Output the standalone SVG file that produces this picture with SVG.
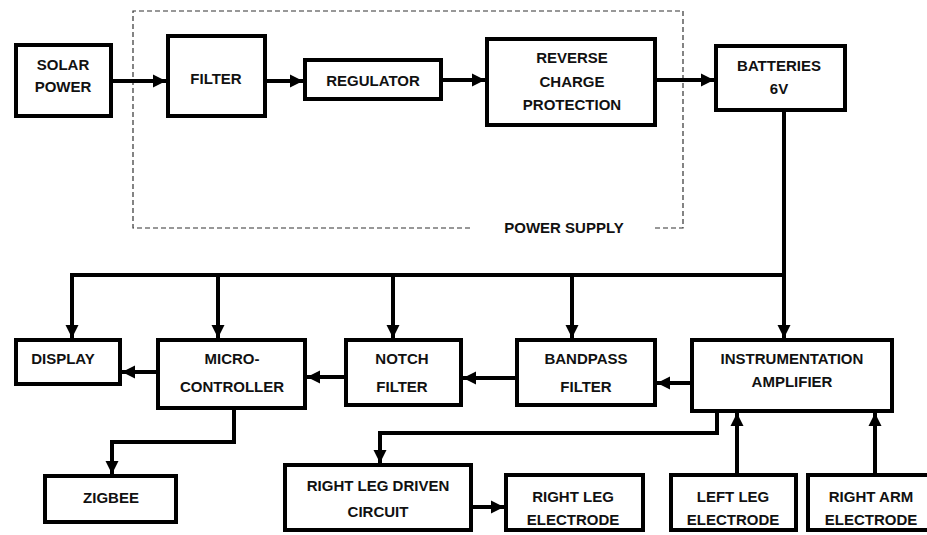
<svg xmlns="http://www.w3.org/2000/svg" width="927" height="535" viewBox="0 0 927 535">
<style>
.box{fill:#fff;stroke:#000;stroke-width:4}
.t{font-family:"Liberation Sans",Arial,sans-serif;font-weight:bold;font-size:15px;text-anchor:middle;fill:#111}
.c{fill:none;stroke:#000;stroke-width:4}
.a{marker-end:url(#ah)}
</style>
<defs>
<marker id="ah" markerUnits="userSpaceOnUse" markerWidth="14" markerHeight="14" viewBox="0 0 14 14" refX="13" refY="7" orient="auto">
<path d="M0 0.5 L13 7 L0 13.5 Z" fill="#000"/>
</marker>
</defs>
<rect width="927" height="535" fill="#fff"/>
<g id="power-supply-frame">
<path d="M470 228 H133 V11 H683 V228 H655" fill="none" stroke="#333" stroke-width="1.2" stroke-dasharray="5,3"/>
<text class="t" x="564" y="233">POWER SUPPLY</text>
</g>
<g id="connectors">
<path class="c a" d="M113 81 H166"/>
<path class="c a" d="M267 81 H303"/>
<path class="c a" d="M443 80 H485"/>
<path class="c a" d="M657 80 H714"/>
<path class="c a" d="M784 112 V338"/>
<path class="c" d="M786 275 H70"/>
<path class="c a" d="M72 273 V338"/>
<path class="c a" d="M218 275 V338"/>
<path class="c a" d="M393 275 V338"/>
<path class="c a" d="M572 275 V338"/>
<path class="c a" d="M690 383 H657"/>
<path class="c a" d="M515 378 H463"/>
<path class="c a" d="M344 377 H307"/>
<path class="c a" d="M156 372 H122"/>
<path class="c a" d="M234 410 V442 H112 V474"/>
<path class="c a" d="M717 413 V433 H380 V463"/>
<path class="c a" d="M473 507 H504"/>
<path class="c a" d="M737 473 V413"/>
<path class="c a" d="M875 473 V413"/>
</g>
<g id="solar-power"><rect class="box" x="16" y="45" width="95" height="71"/><text class="t" x="63" y="70">SOLAR</text><text class="t" x="63" y="92">POWER</text></g>
<g id="filter"><rect class="box" x="168" y="36" width="97" height="80"/><text class="t" x="216" y="84">FILTER</text></g>
<g id="regulator"><rect class="box" x="305" y="60" width="136" height="39"/><text class="t" x="373" y="86">REGULATOR</text></g>
<g id="reverse-charge-protection"><rect class="box" x="487" y="39" width="168" height="86"/><text class="t" x="572" y="63">REVERSE</text><text class="t" x="572" y="87">CHARGE</text><text class="t" x="572" y="110">PROTECTION</text></g>
<g id="batteries"><rect class="box" x="716" y="46" width="129" height="64"/><text class="t" x="779" y="71">BATTERIES</text><text class="t" x="779" y="94">6V</text></g>
<g id="display"><rect class="box" x="16" y="340" width="104" height="44"/><text class="t" x="63" y="364">DISPLAY</text></g>
<g id="microcontroller"><rect class="box" x="158" y="340" width="147" height="68"/><text class="t" x="232" y="364">MICRO-</text><text class="t" x="232" y="392">CONTROLLER</text></g>
<g id="notch-filter"><rect class="box" x="346" y="340" width="115" height="65"/><text class="t" x="402" y="364">NOTCH</text><text class="t" x="402" y="392">FILTER</text></g>
<g id="bandpass-filter"><rect class="box" x="517" y="340" width="138" height="65"/><text class="t" x="586" y="364">BANDPASS</text><text class="t" x="586" y="392">FILTER</text></g>
<g id="instrumentation-amplifier"><rect class="box" x="692" y="340" width="200" height="71"/><text class="t" x="792" y="364">INSTRUMENTATION</text><text class="t" x="792" y="387">AMPLIFIER</text></g>
<g id="zigbee"><rect class="box" x="45" y="476" width="131" height="46"/><text class="t" x="111" y="503">ZIGBEE</text></g>
<g id="right-leg-driven-circuit"><rect class="box" x="285" y="465" width="186" height="65"/><text class="t" x="378" y="491">RIGHT LEG DRIVEN</text><text class="t" x="378" y="517">CIRCUIT</text></g>
<g id="right-leg-electrode"><rect class="box" x="506" y="475" width="137" height="55"/><text class="t" x="573" y="502">RIGHT LEG</text><text class="t" x="573" y="525">ELECTRODE</text></g>
<g id="left-leg-electrode"><rect class="box" x="671" y="475" width="125" height="55"/><text class="t" x="733" y="502">LEFT LEG</text><text class="t" x="733" y="525">ELECTRODE</text></g>
<g id="right-arm-electrode"><rect class="box" x="808" y="475" width="125" height="55"/><text class="t" x="871" y="502">RIGHT ARM</text><text class="t" x="871" y="525">ELECTRODE</text></g>
</svg>
